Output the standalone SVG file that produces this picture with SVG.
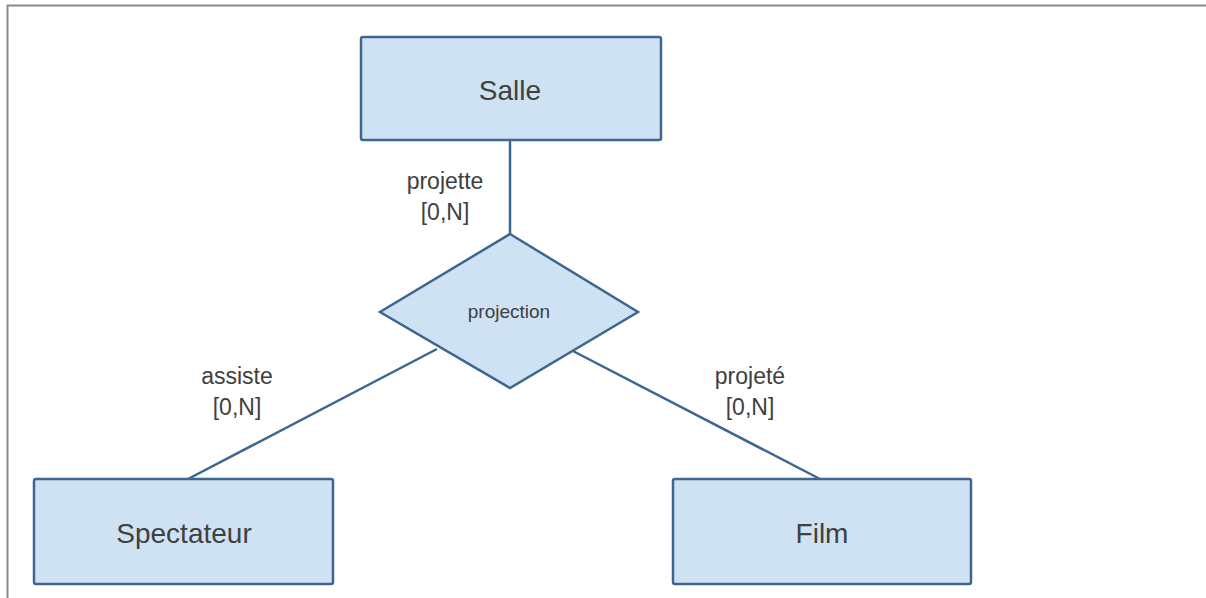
<svg xmlns="http://www.w3.org/2000/svg" width="1206" height="598" viewBox="0 0 1206 598">
<style>
.ent{fill:#cfe2f3;stroke:#3d6791;stroke-width:2.5}
.con{stroke:#3d6791;stroke-width:2.5;fill:none}
.t{font-family:"Liberation Sans",Arial,sans-serif;fill:#404040;text-anchor:middle}
.big{font-size:28px}
.lab{font-size:23px}
</style>
<rect width="1206" height="598" fill="#ffffff"/>
<path d="M7.5 598 V5.5 H1206" fill="none" stroke="#8a8a8a" stroke-width="2"/>
<g id="connectors">
<line class="con" x1="510" y1="140" x2="510" y2="234"/>
<line class="con" x1="437" y1="349" x2="188" y2="479"/>
<line class="con" x1="571" y1="350" x2="820" y2="479"/>
</g>
<g id="salle">
<rect class="ent" x="361" y="37" width="300" height="103" rx="2"/>
<text class="t big" x="510" y="100">Salle</text>
</g>
<g id="projection">
<polygon class="ent" points="510,234 638,312 510,388 380,312"/>
<text class="t" x="509" y="318" font-size="19">projection</text>
</g>
<g id="spectateur">
<rect class="ent" x="34" y="479" width="299" height="105" rx="2"/>
<text class="t big" x="184" y="543">Spectateur</text>
</g>
<g id="film">
<rect class="ent" x="673" y="479" width="298" height="105" rx="2"/>
<text class="t big" x="822" y="543">Film</text>
</g>
<g id="labels">
<text class="t lab" x="445" y="189">projette</text>
<text class="t lab" x="445" y="220">[0,N]</text>
<text class="t lab" x="237" y="384">assiste</text>
<text class="t lab" x="237" y="415">[0,N]</text>
<text class="t lab" x="750" y="384">projeté</text>
<text class="t lab" x="750" y="415">[0,N]</text>
</g>
</svg>
